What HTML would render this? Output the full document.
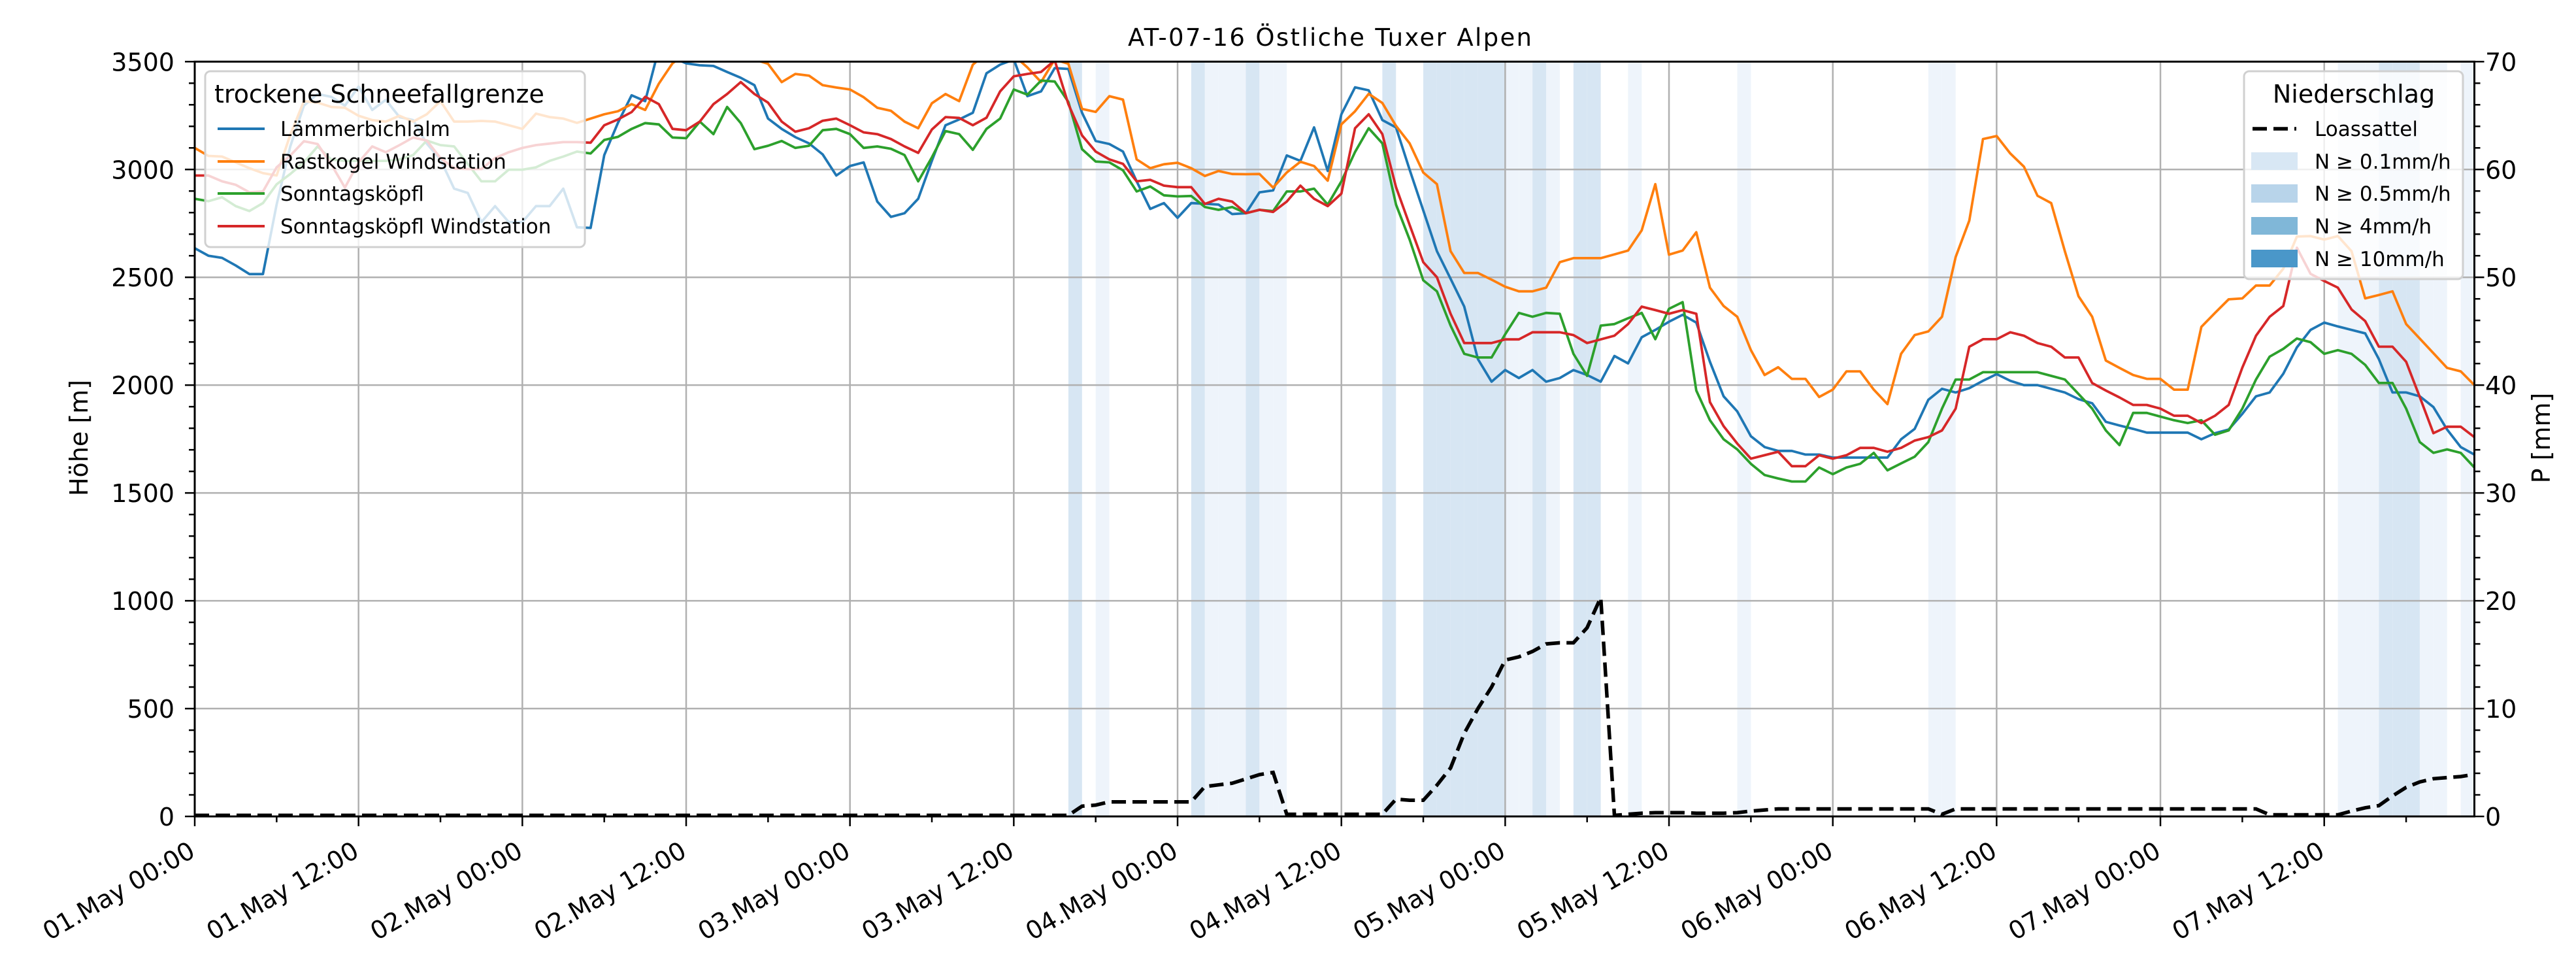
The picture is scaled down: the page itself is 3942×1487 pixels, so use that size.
<!DOCTYPE html>
<html><head><meta charset="utf-8"><title>AT-07-16 Östliche Tuxer Alpen</title>
<style>html,body{margin:0;padding:0;background:#fff}svg{display:block;font-family:"DejaVu Sans","Liberation Sans",sans-serif}</style>
</head><body>
<svg id="chart" xmlns="http://www.w3.org/2000/svg" width="3942" height="1487" viewBox="0 0 3942 1487">
<rect x="0" y="0" width="3942" height="1487" fill="#fff"/>
<g id="bands"></g>
<g id="grid"></g>
<g id="series"></g>
<g id="axes"></g>
<text x="2035" y="70" font-size="37" text-anchor="middle" textLength="618">AT-07-16 Östliche Tuxer Alpen</text>
<text transform="translate(134,670) rotate(-90)" font-size="38" text-anchor="middle">Höhe [m]</text>
<text transform="translate(3902,670) rotate(-90)" font-size="38" text-anchor="middle">P [mm]</text>
<g>
<rect x="314" y="109" width="581" height="269" rx="8" fill="#fff" fill-opacity="0.8" stroke="#d0d0d0" stroke-width="3"/>
<text x="328" y="157" font-size="38">trockene Schneefallgrenze</text>
<line x1="333" y1="197" x2="405" y2="197" stroke="#1f77b4" stroke-width="4"/>
<text x="429" y="208" font-size="31">Lämmerbichlalm</text>
<line x1="333" y1="247" x2="405" y2="247" stroke="#ff7f0e" stroke-width="4"/>
<text x="429" y="258" font-size="31">Rastkogel Windstation</text>
<line x1="333" y1="296" x2="405" y2="296" stroke="#2ca02c" stroke-width="4"/>
<text x="429" y="307" font-size="31">Sonntagsköpfl</text>
<line x1="333" y1="346" x2="405" y2="346" stroke="#d62728" stroke-width="4"/>
<text x="429" y="357" font-size="31">Sonntagsköpfl Windstation</text>
</g>
<g>
<rect x="3434" y="109" width="335" height="318" rx="8" fill="#fff" fill-opacity="0.8" stroke="#d0d0d0" stroke-width="3"/>
<text x="3602" y="157" font-size="38" text-anchor="middle">Niederschlag</text>
<line x1="3447" y1="197" x2="3514" y2="197" stroke="#000" stroke-width="5.5" stroke-dasharray="22 10"/>
<text x="3542" y="208" font-size="31">Loassattel</text>
<rect x="3445" y="233" width="71" height="27" fill="#d8e7f4"/>
<text x="3542" y="258" font-size="31">N ≥ 0.1mm/h</text>
<rect x="3445" y="282" width="71" height="28" fill="#b8d4ea"/>
<text x="3542" y="307" font-size="31">N ≥ 0.5mm/h</text>
<rect x="3445" y="332" width="71" height="27" fill="#80b7d8"/>
<text x="3542" y="357" font-size="31">N ≥ 4mm/h</text>
<rect x="3445" y="382" width="71" height="27" fill="#4a97c9"/>
<text x="3542" y="407" font-size="31">N ≥ 10mm/h</text>
</g>
</svg>
<script>
const xTickLabels = ["01.May 00:00","01.May 12:00","02.May 00:00","02.May 12:00","03.May 00:00","03.May 12:00","04.May 00:00","04.May 12:00","05.May 00:00","05.May 12:00","06.May 00:00","06.May 12:00","07.May 00:00","07.May 12:00"];
const yLeftTicks = [0,500,1000,1500,2000,2500,3000,3500];
const yRightTicks = [0,10,20,30,40,50,60,70];
const laemmerbichlalm = [2635,2600,2590,2555,2515,2515,2837,3107,3296,3350,3337,3296,3384,3276,3323,3243,3229,3120,3046,2911,2891,2756,2830,2756,2756,2830,2830,2911,2732,2729,3067,3216,3344,3317,3560,3520,3492,3483,3480,3452,3425,3391,3236,3188,3150,3121,3070,2972,3016,3033,2851,2780,2797,2864,3040,3205,3232,3263,3446,3486,3510,3340,3362,3470,3466,3263,3132,3118,3083,2945,2817,2844,2776,2844,2841,2837,2793,2797,2894,2903,3065,3040,3195,2993,3256,3381,3367,3229,3195,2999,2810,2621,2493,2364,2121,2016,2070,2033,2070,2016,2033,2070,2047,2016,2135,2101,2222,2256,2294,2326,2290,2108,1948,1878,1763,1713,1695,1695,1678,1678,1664,1664,1664,1664,1664,1749,1797,1932,1983,1966,1986,2020,2051,2020,2000,2000,1983,1966,1935,1916,1830,1813,1797,1780,1780,1780,1780,1749,1777,1794,1867,1948,1966,2053,2175,2256,2290,2272,2256,2240,2121,1966,1966,1948,1898,1794,1713,1678];
const rastkogel = [3100,3063,3060,3033,3006,2983,2972,3161,3317,3310,3290,3286,3249,3229,3222,3249,3222,3256,3317,3222,3222,3225,3222,3205,3188,3259,3243,3236,3216,3236,3256,3270,3303,3276,3398,3492,3540,3560,3520,3510,3520,3510,3490,3405,3443,3435,3391,3380,3371,3335,3286,3272,3222,3191,3307,3350,3317,3486,3540,3560,3530,3473,3405,3510,3490,3281,3267,3340,3324,3047,3006,3024,3031,3006,2970,2993,2979,2978,2979,2916,2986,3036,3016,2948,3209,3270,3351,3308,3202,3121,2986,2932,2621,2520,2520,2489,2456,2435,2435,2452,2570,2589,2589,2589,2606,2624,2718,2932,2605,2624,2709,2452,2367,2317,2162,2047,2083,2029,2029,1945,1979,2064,2064,1979,1912,2145,2232,2249,2317,2594,2763,3141,3155,3074,3013,2878,2844,2621,2412,2317,2114,2080,2047,2029,2029,1979,1979,2270,2335,2398,2402,2462,2462,2540,2689,2691,2675,2691,2621,2402,2418,2435,2283,2216,2148,2080,2064,2000];
const sonntagskoepfl = [2864,2853,2871,2830,2807,2844,2931,2979,3033,3107,3046,3040,3040,3040,3040,3046,3067,3134,3113,3107,3026,2945,2945,2999,2999,3010,3040,3060,3083,3074,3137,3151,3188,3215,3209,3148,3145,3222,3164,3290,3215,3094,3110,3132,3100,3110,3182,3188,3164,3100,3107,3096,3067,2945,3056,3178,3164,3091,3188,3236,3371,3347,3412,3408,3313,3094,3037,3033,2996,2898,2921,2880,2875,2877,2826,2813,2826,2797,2813,2807,2898,2898,2911,2837,2945,3081,3191,3121,2837,2675,2486,2435,2276,2145,2128,2128,2236,2335,2317,2335,2331,2145,2043,2276,2283,2310,2335,2213,2354,2385,1975,1837,1749,1702,1635,1583,1567,1553,1553,1618,1587,1618,1635,1686,1605,1637,1668,1736,1891,2026,2026,2060,2060,2060,2060,2060,2043,2026,1959,1891,1790,1722,1871,1871,1854,1837,1824,1837,1770,1790,1891,2026,2132,2168,2216,2199,2145,2162,2145,2094,2010,2010,1891,1736,1686,1702,1686,1618];
const sonntagskoepflWind = [2972,2972,2945,2929,2894,2898,3010,3064,3131,3118,3024,2916,3033,3107,3080,3113,3148,3134,3053,3006,3002,3002,3053,3080,3100,3113,3120,3127,3127,3124,3205,3232,3266,3337,3303,3188,3182,3222,3303,3350,3405,3350,3310,3222,3175,3191,3226,3236,3205,3172,3164,3141,3107,3077,3185,3243,3239,3205,3240,3362,3432,3443,3452,3506,3303,3158,3083,3047,3026,2945,2952,2925,2918,2918,2840,2864,2851,2797,2813,2803,2851,2925,2864,2830,2888,3191,3256,3164,2918,2743,2570,2500,2331,2195,2195,2195,2212,2212,2245,2245,2245,2232,2195,2212,2229,2283,2364,2348,2331,2348,2331,1921,1810,1729,1659,1675,1691,1624,1624,1675,1659,1675,1709,1709,1691,1709,1743,1759,1790,1891,2178,2213,2213,2245,2229,2195,2178,2128,2128,2010,1975,1943,1908,1908,1891,1858,1858,1824,1858,1908,2081,2229,2317,2367,2637,2516,2483,2452,2351,2297,2178,2178,2108,1945,1777,1807,1807,1759];
const loassattel = [0.1,0.1,0.1,0.1,0.1,0.1,0.1,0.1,0.1,0.1,0.1,0.1,0.1,0.1,0.1,0.1,0.1,0.1,0.1,0.1,0.1,0.1,0.1,0.1,0.1,0.1,0.1,0.1,0.1,0.1,0.1,0.1,0.1,0.1,0.1,0.1,0.1,0.1,0.1,0.1,0.1,0.1,0.1,0.1,0.1,0.1,0.1,0.1,0.1,0.1,0.1,0.1,0.1,0.1,0.1,0.1,0.1,0.1,0.1,0.1,0.1,0.1,0.1,0.1,0.1,0.95,1.05,1.35,1.35,1.35,1.35,1.35,1.35,1.35,2.77,2.93,3.08,3.48,3.88,4.08,0.2,0.2,0.2,0.2,0.2,0.2,0.2,0.2,1.6,1.5,1.5,2.9,4.5,7.7,10.0,12.0,14.5,14.8,15.3,16.0,16.1,16.1,17.5,20.3,0.1,0.2,0.3,0.35,0.35,0.35,0.3,0.3,0.3,0.35,0.5,0.6,0.7,0.7,0.7,0.7,0.7,0.7,0.7,0.7,0.7,0.7,0.7,0.7,0.2,0.7,0.7,0.7,0.7,0.7,0.7,0.7,0.7,0.7,0.7,0.7,0.7,0.7,0.7,0.7,0.7,0.7,0.7,0.7,0.7,0.7,0.7,0.7,0.15,0.15,0.15,0.15,0.15,0.15,0.5,0.8,1.0,1.9,2.7,3.2,3.5,3.6,3.7,3.9];
const bandHours = [64,66,73,74,75,76,77,78,79,87,90,91,92,93,94,95,96,97,98,99,101,102,105,113,127,128,157,158,159,160,161,162,163,164,166];
const bandLevels = [2,1,2,1,1,1,2,1,1,2,2,2,2,2,2,2,1,1,2,1,2,2,1,1,1,1,1,1,1,2,2,2,1,1,1];

const NS = "http://www.w3.org/2000/svg";
const X0 = 298, X1 = 3786.5, Y0 = 1249, Y1 = 94.3, HMAX = 167;
const xs = h => X0 + h / HMAX * (X1 - X0);
const yl = v => Y0 - v / 3500 * (Y0 - Y1);
const yr = p => Y0 - p / 70 * (Y0 - Y1);
function mk(tag, attrs, parent) {
  const e = document.createElementNS(NS, tag);
  for (const k in attrs) e.setAttribute(k, attrs[k]);
  parent.appendChild(e);
  return e;
}
const bands = document.getElementById('bands');
const grid = document.getElementById('grid');
const series = document.getElementById('series');
const axes = document.getElementById('axes');
const bandColors = {1: '#eef4fb', 2: '#d7e6f3'};

bandHours.forEach((h, i) => {
  const r = mk('rect', {x: xs(h), y: Y1, width: xs(h + 1) - xs(h), height: Y0 - Y1, fill: bandColors[bandLevels[i]]}, bands);
  
  
});

yLeftTicks.forEach(v => {
  const l = mk('line', {x1: X0, x2: X1, y1: yl(v), y2: yl(v), stroke: '#b0b0b0', 'stroke-width': 2.5}, grid);
  
  
});
xTickLabels.forEach((lab, i) => {
  const l = mk('line', {x1: xs(i * 12), x2: xs(i * 12), y1: Y1, y2: Y0, stroke: '#b0b0b0', 'stroke-width': 2.5}, grid);
  
  
});

function addLine(arr, color, name) {
  const pts = arr.map((v, i) => xs(i).toFixed(1) + ',' + yl(v).toFixed(1)).join(' ');
  const p = mk('polyline', {points: pts, fill: 'none', stroke: color, 'stroke-width': 3.8, 'stroke-linejoin': 'round', 'clip-path': 'url(#plotclip)'}, series);
  
  
}
const defs = mk('defs', {}, document.getElementById('chart'));
const cp = mk('clipPath', {id: 'plotclip'}, defs);
mk('rect', {x: X0, y: Y1, width: X1 - X0, height: Y0 - Y1 + 4}, cp);

addLine(laemmerbichlalm, '#1f77b4', 'line-laemmerbichlalm');
addLine(rastkogel, '#ff7f0e', 'line-rastkogel-windstation');
addLine(sonntagskoepfl, '#2ca02c', 'line-sonntagskoepfl');
addLine(sonntagskoepflWind, '#d62728', 'line-sonntagskoepfl-windstation');
const dpts = loassattel.map((p, i) => xs(i).toFixed(1) + ',' + yr(p).toFixed(1)).join(' ');
const dl = mk('polyline', {points: dpts, fill: 'none', stroke: '#000', 'stroke-width': 5.5, 'stroke-dasharray': '22 10', 'clip-path': 'url(#plotclip)'}, series);



// spines
const fr = mk('rect', {x: X0, y: Y1, width: X1 - X0, height: Y0 - Y1, fill: 'none', stroke: '#000', 'stroke-width': 3}, axes);



// left ticks
for (let v = 0; v <= 3500; v += 100) {
  const major = v % 500 === 0;
  const t = mk('line', {x1: X0, x2: X0 - (major ? 15 : 9), y1: yl(v), y2: yl(v), stroke: '#000', 'stroke-width': 2.5}, axes);
  
  
}
yLeftTicks.forEach(v => {
  const t = mk('text', {x: 267, y: yl(v) + 14, 'font-size': 38, 'text-anchor': 'end'}, axes);
  t.textContent = v;
  
  
});
// right ticks
for (let p = 0; p <= 70; p += 2) {
  const major = p % 10 === 0;
  const t = mk('line', {x1: X1, x2: X1 + (major ? 15 : 9), y1: yr(p), y2: yr(p), stroke: '#000', 'stroke-width': 2.5}, axes);
  
  
}
yRightTicks.forEach(p => {
  const t = mk('text', {x: 3803, y: yr(p) + 14, 'font-size': 38, 'text-anchor': 'start'}, axes);
  t.textContent = p;
  
  
});
// x ticks
for (let h = 0; h <= HMAX; h += 6) {
  const major = h % 12 === 0;
  const t = mk('line', {x1: xs(h), x2: xs(h), y1: Y0, y2: Y0 + (major ? 15 : 9), stroke: '#000', 'stroke-width': 2.5}, axes);
  
  
}
xTickLabels.forEach((lab, i) => {
  const px = xs(i * 12) + 3, py = 1309;
  const t = mk('text', {x: px, y: py, 'font-size': 38, 'text-anchor': 'end', transform: 'rotate(-30 ' + px + ' ' + py + ')'}, axes);
  t.textContent = lab;
  
  
});
</script>
</body></html>
